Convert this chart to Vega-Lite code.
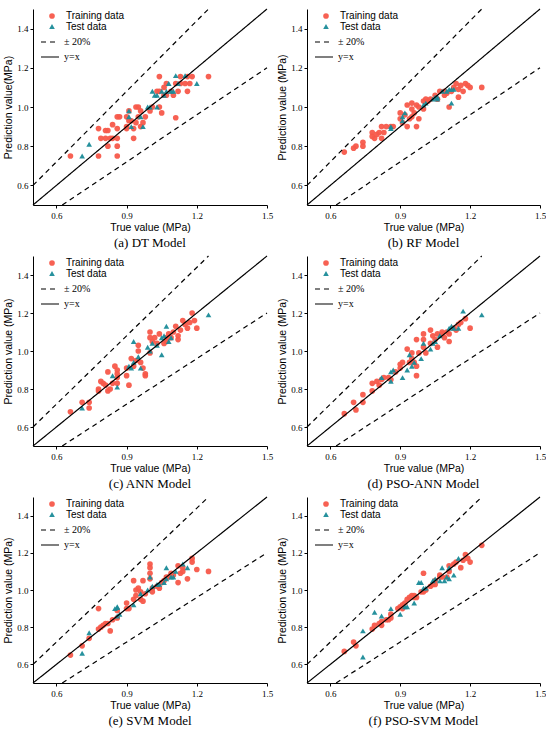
{
  "$schema": "https://vega.github.io/schema/vega-lite/v6.json",
  "padding": {"left": 3, "top": 6, "right": 0, "bottom": 0},
  "datasets": {
    "lines": [
      {"line": "u", "kind": "± 20%", "x": 0.5, "y": 0.6},
      {"line": "u", "kind": "± 20%", "x": 1.25, "y": 1.5},
      {"line": "l", "kind": "± 20%", "x": 0.625, "y": 0.5},
      {"line": "l", "kind": "± 20%", "x": 1.5, "y": 1.2},
      {"line": "d", "kind": "y=x", "x": 0.5, "y": 0.5},
      {"line": "d", "kind": "y=x", "x": 1.5, "y": 1.5}
    ],
    "pts": [
      {"m": "a", "s": "Training data", "x": 0.66, "y": 0.75},
      {"m": "a", "s": "Training data", "x": 0.78, "y": 0.89},
      {"m": "a", "s": "Training data", "x": 0.78, "y": 0.75},
      {"m": "a", "s": "Training data", "x": 0.79, "y": 0.84},
      {"m": "a", "s": "Training data", "x": 0.81, "y": 0.84},
      {"m": "a", "s": "Training data", "x": 0.81, "y": 0.88},
      {"m": "a", "s": "Training data", "x": 0.82, "y": 0.88},
      {"m": "a", "s": "Training data", "x": 0.82, "y": 0.80},
      {"m": "a", "s": "Training data", "x": 0.83, "y": 0.84},
      {"m": "a", "s": "Training data", "x": 0.84, "y": 0.84},
      {"m": "a", "s": "Training data", "x": 0.84, "y": 0.91},
      {"m": "a", "s": "Training data", "x": 0.86, "y": 0.95},
      {"m": "a", "s": "Training data", "x": 0.86, "y": 0.89},
      {"m": "a", "s": "Training data", "x": 0.86, "y": 0.84},
      {"m": "a", "s": "Training data", "x": 0.86, "y": 0.80},
      {"m": "a", "s": "Training data", "x": 0.86, "y": 0.75},
      {"m": "a", "s": "Training data", "x": 0.87, "y": 0.95},
      {"m": "a", "s": "Training data", "x": 0.90, "y": 0.95},
      {"m": "a", "s": "Training data", "x": 0.90, "y": 0.90},
      {"m": "a", "s": "Training data", "x": 0.91, "y": 0.93},
      {"m": "a", "s": "Training data", "x": 0.90, "y": 0.89},
      {"m": "a", "s": "Training data", "x": 0.91, "y": 0.98},
      {"m": "a", "s": "Training data", "x": 0.92, "y": 0.93},
      {"m": "a", "s": "Training data", "x": 0.93, "y": 0.89},
      {"m": "a", "s": "Training data", "x": 0.93, "y": 0.84},
      {"m": "a", "s": "Training data", "x": 0.94, "y": 0.92},
      {"m": "a", "s": "Training data", "x": 0.94, "y": 1.00},
      {"m": "a", "s": "Training data", "x": 0.95, "y": 0.95},
      {"m": "a", "s": "Training data", "x": 0.95, "y": 1.00},
      {"m": "a", "s": "Training data", "x": 0.96, "y": 0.90},
      {"m": "a", "s": "Training data", "x": 0.96, "y": 0.98},
      {"m": "a", "s": "Training data", "x": 0.97, "y": 0.92},
      {"m": "a", "s": "Training data", "x": 0.98, "y": 0.95},
      {"m": "a", "s": "Training data", "x": 1.00, "y": 0.98},
      {"m": "a", "s": "Training data", "x": 1.01, "y": 1.00},
      {"m": "a", "s": "Training data", "x": 1.04, "y": 1.155},
      {"m": "a", "s": "Training data", "x": 1.04, "y": 1.00},
      {"m": "a", "s": "Training data", "x": 1.05, "y": 0.97},
      {"m": "a", "s": "Training data", "x": 1.03, "y": 1.08},
      {"m": "a", "s": "Training data", "x": 1.04, "y": 1.08},
      {"m": "a", "s": "Training data", "x": 1.06, "y": 1.06},
      {"m": "a", "s": "Training data", "x": 1.06, "y": 1.10},
      {"m": "a", "s": "Training data", "x": 1.07, "y": 1.06},
      {"m": "a", "s": "Training data", "x": 1.07, "y": 1.12},
      {"m": "a", "s": "Training data", "x": 1.09, "y": 1.08},
      {"m": "a", "s": "Training data", "x": 1.10, "y": 1.06},
      {"m": "a", "s": "Training data", "x": 1.11, "y": 0.945},
      {"m": "a", "s": "Training data", "x": 1.11, "y": 1.12},
      {"m": "a", "s": "Training data", "x": 1.12, "y": 1.08},
      {"m": "a", "s": "Training data", "x": 1.13, "y": 1.155},
      {"m": "a", "s": "Training data", "x": 1.13, "y": 1.12},
      {"m": "a", "s": "Training data", "x": 1.15, "y": 1.12},
      {"m": "a", "s": "Training data", "x": 1.16, "y": 1.155},
      {"m": "a", "s": "Training data", "x": 1.16, "y": 1.08},
      {"m": "a", "s": "Training data", "x": 1.17, "y": 1.12},
      {"m": "a", "s": "Training data", "x": 1.18, "y": 1.155},
      {"m": "a", "s": "Training data", "x": 1.25, "y": 1.155},
      {"m": "a", "s": "Test data", "x": 0.71, "y": 0.75},
      {"m": "a", "s": "Test data", "x": 0.74, "y": 0.81},
      {"m": "a", "s": "Test data", "x": 0.91, "y": 0.98},
      {"m": "a", "s": "Test data", "x": 0.91, "y": 0.95},
      {"m": "a", "s": "Test data", "x": 0.92, "y": 0.90},
      {"m": "a", "s": "Test data", "x": 0.96, "y": 0.95},
      {"m": "a", "s": "Test data", "x": 0.97, "y": 0.90},
      {"m": "a", "s": "Test data", "x": 0.99, "y": 1.00},
      {"m": "a", "s": "Test data", "x": 1.00, "y": 1.00},
      {"m": "a", "s": "Test data", "x": 1.03, "y": 1.00},
      {"m": "a", "s": "Test data", "x": 1.01, "y": 1.08},
      {"m": "a", "s": "Test data", "x": 1.02, "y": 1.06},
      {"m": "a", "s": "Test data", "x": 1.03, "y": 1.06},
      {"m": "a", "s": "Test data", "x": 1.05, "y": 1.08},
      {"m": "a", "s": "Test data", "x": 1.06, "y": 1.06},
      {"m": "a", "s": "Test data", "x": 1.07, "y": 1.08},
      {"m": "a", "s": "Test data", "x": 1.08, "y": 1.12},
      {"m": "a", "s": "Test data", "x": 1.09, "y": 1.08},
      {"m": "a", "s": "Test data", "x": 1.10, "y": 1.08},
      {"m": "a", "s": "Test data", "x": 1.11, "y": 1.16},
      {"m": "a", "s": "Test data", "x": 1.12, "y": 1.12},
      {"m": "a", "s": "Test data", "x": 1.15, "y": 1.16},
      {"m": "a", "s": "Test data", "x": 1.20, "y": 1.12},

      {"m": "b", "s": "Training data", "x": 0.66, "y": 0.77},
      {"m": "b", "s": "Training data", "x": 0.70, "y": 0.79},
      {"m": "b", "s": "Training data", "x": 0.71, "y": 0.80},
      {"m": "b", "s": "Training data", "x": 0.74, "y": 0.80},
      {"m": "b", "s": "Training data", "x": 0.74, "y": 0.82},
      {"m": "b", "s": "Training data", "x": 0.78, "y": 0.87},
      {"m": "b", "s": "Training data", "x": 0.78, "y": 0.85},
      {"m": "b", "s": "Training data", "x": 0.79, "y": 0.84},
      {"m": "b", "s": "Training data", "x": 0.80, "y": 0.86},
      {"m": "b", "s": "Training data", "x": 0.81, "y": 0.87},
      {"m": "b", "s": "Training data", "x": 0.82, "y": 0.90},
      {"m": "b", "s": "Training data", "x": 0.82, "y": 0.84},
      {"m": "b", "s": "Training data", "x": 0.83, "y": 0.87},
      {"m": "b", "s": "Training data", "x": 0.84, "y": 0.90},
      {"m": "b", "s": "Training data", "x": 0.86, "y": 0.90},
      {"m": "b", "s": "Training data", "x": 0.87, "y": 0.90},
      {"m": "b", "s": "Training data", "x": 0.90, "y": 0.97},
      {"m": "b", "s": "Training data", "x": 0.90, "y": 0.94},
      {"m": "b", "s": "Training data", "x": 0.91, "y": 0.92},
      {"m": "b", "s": "Training data", "x": 0.92, "y": 0.96},
      {"m": "b", "s": "Training data", "x": 0.93, "y": 1.01},
      {"m": "b", "s": "Training data", "x": 0.93, "y": 0.90},
      {"m": "b", "s": "Training data", "x": 0.94, "y": 0.94},
      {"m": "b", "s": "Training data", "x": 0.95, "y": 0.99},
      {"m": "b", "s": "Training data", "x": 0.95, "y": 1.02},
      {"m": "b", "s": "Training data", "x": 0.95, "y": 0.95},
      {"m": "b", "s": "Training data", "x": 0.96, "y": 0.97},
      {"m": "b", "s": "Training data", "x": 0.97, "y": 1.01},
      {"m": "b", "s": "Training data", "x": 0.97, "y": 0.90},
      {"m": "b", "s": "Training data", "x": 0.98, "y": 0.94},
      {"m": "b", "s": "Training data", "x": 0.98, "y": 1.00},
      {"m": "b", "s": "Training data", "x": 1.00, "y": 1.03},
      {"m": "b", "s": "Training data", "x": 1.00, "y": 0.99},
      {"m": "b", "s": "Training data", "x": 1.01, "y": 1.04},
      {"m": "b", "s": "Training data", "x": 1.02, "y": 1.03},
      {"m": "b", "s": "Training data", "x": 1.03, "y": 1.04},
      {"m": "b", "s": "Training data", "x": 1.05, "y": 1.06},
      {"m": "b", "s": "Training data", "x": 1.06, "y": 1.04},
      {"m": "b", "s": "Training data", "x": 1.07, "y": 1.08},
      {"m": "b", "s": "Training data", "x": 1.09, "y": 1.08},
      {"m": "b", "s": "Training data", "x": 1.09, "y": 1.06},
      {"m": "b", "s": "Training data", "x": 1.10, "y": 1.07},
      {"m": "b", "s": "Training data", "x": 1.11, "y": 1.00},
      {"m": "b", "s": "Training data", "x": 1.12, "y": 1.08},
      {"m": "b", "s": "Training data", "x": 1.13, "y": 1.10},
      {"m": "b", "s": "Training data", "x": 1.14, "y": 1.12},
      {"m": "b", "s": "Training data", "x": 1.15, "y": 1.09},
      {"m": "b", "s": "Training data", "x": 1.16, "y": 1.11},
      {"m": "b", "s": "Training data", "x": 1.15, "y": 1.05},
      {"m": "b", "s": "Training data", "x": 1.17, "y": 1.08},
      {"m": "b", "s": "Training data", "x": 1.18, "y": 1.12},
      {"m": "b", "s": "Training data", "x": 1.19, "y": 1.11},
      {"m": "b", "s": "Training data", "x": 1.20, "y": 1.10},
      {"m": "b", "s": "Training data", "x": 1.25, "y": 1.10},
      {"m": "b", "s": "Test data", "x": 0.86, "y": 0.90},
      {"m": "b", "s": "Test data", "x": 0.86, "y": 0.89},
      {"m": "b", "s": "Test data", "x": 0.91, "y": 0.95},
      {"m": "b", "s": "Test data", "x": 0.91, "y": 0.93},
      {"m": "b", "s": "Test data", "x": 0.92, "y": 0.97},
      {"m": "b", "s": "Test data", "x": 1.00, "y": 1.01},
      {"m": "b", "s": "Test data", "x": 1.01, "y": 1.02},
      {"m": "b", "s": "Test data", "x": 1.04, "y": 1.04},
      {"m": "b", "s": "Test data", "x": 1.05, "y": 1.05},
      {"m": "b", "s": "Test data", "x": 1.06, "y": 1.04},
      {"m": "b", "s": "Test data", "x": 1.06, "y": 1.05},
      {"m": "b", "s": "Test data", "x": 1.08, "y": 1.08},
      {"m": "b", "s": "Test data", "x": 1.10, "y": 1.08},
      {"m": "b", "s": "Test data", "x": 1.11, "y": 1.09},
      {"m": "b", "s": "Test data", "x": 1.12, "y": 1.09},
      {"m": "b", "s": "Test data", "x": 1.12, "y": 1.02},
      {"m": "b", "s": "Test data", "x": 1.13, "y": 1.09},

      {"m": "c", "s": "Training data", "x": 0.66, "y": 0.68},
      {"m": "c", "s": "Training data", "x": 0.71, "y": 0.73},
      {"m": "c", "s": "Training data", "x": 0.74, "y": 0.73},
      {"m": "c", "s": "Training data", "x": 0.74, "y": 0.70},
      {"m": "c", "s": "Training data", "x": 0.78, "y": 0.80},
      {"m": "c", "s": "Training data", "x": 0.78, "y": 0.79},
      {"m": "c", "s": "Training data", "x": 0.79, "y": 0.84},
      {"m": "c", "s": "Training data", "x": 0.80, "y": 0.83},
      {"m": "c", "s": "Training data", "x": 0.81, "y": 0.82},
      {"m": "c", "s": "Training data", "x": 0.82, "y": 0.89},
      {"m": "c", "s": "Training data", "x": 0.82, "y": 0.79},
      {"m": "c", "s": "Training data", "x": 0.83, "y": 0.80},
      {"m": "c", "s": "Training data", "x": 0.84, "y": 0.83},
      {"m": "c", "s": "Training data", "x": 0.85, "y": 0.92},
      {"m": "c", "s": "Training data", "x": 0.86, "y": 0.90},
      {"m": "c", "s": "Training data", "x": 0.86, "y": 0.88},
      {"m": "c", "s": "Training data", "x": 0.86, "y": 0.86},
      {"m": "c", "s": "Training data", "x": 0.86, "y": 0.83},
      {"m": "c", "s": "Training data", "x": 0.90, "y": 0.87},
      {"m": "c", "s": "Training data", "x": 0.90, "y": 0.91},
      {"m": "c", "s": "Training data", "x": 0.91, "y": 0.82},
      {"m": "c", "s": "Training data", "x": 0.92, "y": 0.96},
      {"m": "c", "s": "Training data", "x": 0.93, "y": 0.92},
      {"m": "c", "s": "Training data", "x": 0.94, "y": 0.95},
      {"m": "c", "s": "Training data", "x": 0.95, "y": 1.03},
      {"m": "c", "s": "Training data", "x": 0.95, "y": 1.00},
      {"m": "c", "s": "Training data", "x": 0.96, "y": 0.94},
      {"m": "c", "s": "Training data", "x": 0.97, "y": 0.91},
      {"m": "c", "s": "Training data", "x": 0.98, "y": 0.88},
      {"m": "c", "s": "Training data", "x": 0.98, "y": 0.87},
      {"m": "c", "s": "Training data", "x": 1.00, "y": 1.10},
      {"m": "c", "s": "Training data", "x": 1.00, "y": 1.07},
      {"m": "c", "s": "Training data", "x": 1.00, "y": 0.99},
      {"m": "c", "s": "Training data", "x": 1.01, "y": 1.05},
      {"m": "c", "s": "Training data", "x": 1.02, "y": 1.07},
      {"m": "c", "s": "Training data", "x": 1.03, "y": 1.04},
      {"m": "c", "s": "Training data", "x": 1.04, "y": 1.09},
      {"m": "c", "s": "Training data", "x": 1.06, "y": 1.04},
      {"m": "c", "s": "Training data", "x": 1.07, "y": 1.07},
      {"m": "c", "s": "Training data", "x": 1.07, "y": 1.05},
      {"m": "c", "s": "Training data", "x": 1.08, "y": 1.09},
      {"m": "c", "s": "Training data", "x": 1.09, "y": 1.07},
      {"m": "c", "s": "Training data", "x": 1.10, "y": 1.10},
      {"m": "c", "s": "Training data", "x": 1.11, "y": 1.13},
      {"m": "c", "s": "Training data", "x": 1.12, "y": 1.08},
      {"m": "c", "s": "Training data", "x": 1.12, "y": 1.06},
      {"m": "c", "s": "Training data", "x": 1.13, "y": 1.11},
      {"m": "c", "s": "Training data", "x": 1.14, "y": 1.16},
      {"m": "c", "s": "Training data", "x": 1.15, "y": 1.14},
      {"m": "c", "s": "Training data", "x": 1.16, "y": 1.12},
      {"m": "c", "s": "Training data", "x": 1.17, "y": 1.15},
      {"m": "c", "s": "Training data", "x": 1.18, "y": 1.20},
      {"m": "c", "s": "Training data", "x": 1.19, "y": 1.16},
      {"m": "c", "s": "Training data", "x": 1.20, "y": 1.12},
      {"m": "c", "s": "Test data", "x": 0.71, "y": 0.70},
      {"m": "c", "s": "Test data", "x": 0.84, "y": 0.87},
      {"m": "c", "s": "Test data", "x": 0.86, "y": 0.81},
      {"m": "c", "s": "Test data", "x": 0.91, "y": 0.92},
      {"m": "c", "s": "Test data", "x": 0.92, "y": 0.91},
      {"m": "c", "s": "Test data", "x": 0.93, "y": 0.94},
      {"m": "c", "s": "Test data", "x": 0.93, "y": 1.05},
      {"m": "c", "s": "Test data", "x": 0.95, "y": 0.97},
      {"m": "c", "s": "Test data", "x": 0.96, "y": 0.91},
      {"m": "c", "s": "Test data", "x": 0.99, "y": 1.02},
      {"m": "c", "s": "Test data", "x": 1.00, "y": 1.00},
      {"m": "c", "s": "Test data", "x": 1.01, "y": 1.04},
      {"m": "c", "s": "Test data", "x": 1.03, "y": 1.03},
      {"m": "c", "s": "Test data", "x": 1.05, "y": 0.98},
      {"m": "c", "s": "Test data", "x": 1.05, "y": 1.07},
      {"m": "c", "s": "Test data", "x": 1.06, "y": 1.08},
      {"m": "c", "s": "Test data", "x": 1.07, "y": 1.13},
      {"m": "c", "s": "Test data", "x": 1.08, "y": 1.05},
      {"m": "c", "s": "Test data", "x": 1.09, "y": 1.07},
      {"m": "c", "s": "Test data", "x": 1.25, "y": 1.19},

      {"m": "d", "s": "Training data", "x": 0.66, "y": 0.67},
      {"m": "d", "s": "Training data", "x": 0.70, "y": 0.73},
      {"m": "d", "s": "Training data", "x": 0.71, "y": 0.69},
      {"m": "d", "s": "Training data", "x": 0.74, "y": 0.77},
      {"m": "d", "s": "Training data", "x": 0.74, "y": 0.73},
      {"m": "d", "s": "Training data", "x": 0.78, "y": 0.83},
      {"m": "d", "s": "Training data", "x": 0.78, "y": 0.79},
      {"m": "d", "s": "Training data", "x": 0.80, "y": 0.84},
      {"m": "d", "s": "Training data", "x": 0.81, "y": 0.82},
      {"m": "d", "s": "Training data", "x": 0.82, "y": 0.85},
      {"m": "d", "s": "Training data", "x": 0.83, "y": 0.86},
      {"m": "d", "s": "Training data", "x": 0.85, "y": 0.86},
      {"m": "d", "s": "Training data", "x": 0.86, "y": 0.85},
      {"m": "d", "s": "Training data", "x": 0.88, "y": 0.89},
      {"m": "d", "s": "Training data", "x": 0.90, "y": 0.93},
      {"m": "d", "s": "Training data", "x": 0.90, "y": 0.91},
      {"m": "d", "s": "Training data", "x": 0.91, "y": 0.94},
      {"m": "d", "s": "Training data", "x": 0.93, "y": 1.01},
      {"m": "d", "s": "Training data", "x": 0.94, "y": 0.94},
      {"m": "d", "s": "Training data", "x": 0.95, "y": 0.99},
      {"m": "d", "s": "Training data", "x": 0.95, "y": 0.96},
      {"m": "d", "s": "Training data", "x": 0.96, "y": 0.94},
      {"m": "d", "s": "Training data", "x": 0.97, "y": 1.06},
      {"m": "d", "s": "Training data", "x": 0.97, "y": 0.92},
      {"m": "d", "s": "Training data", "x": 0.97, "y": 0.87},
      {"m": "d", "s": "Training data", "x": 0.98, "y": 0.99},
      {"m": "d", "s": "Training data", "x": 1.00, "y": 1.09},
      {"m": "d", "s": "Training data", "x": 1.00, "y": 1.06},
      {"m": "d", "s": "Training data", "x": 1.00, "y": 1.02},
      {"m": "d", "s": "Training data", "x": 1.01, "y": 0.99},
      {"m": "d", "s": "Training data", "x": 1.03, "y": 1.11},
      {"m": "d", "s": "Training data", "x": 1.03, "y": 1.04},
      {"m": "d", "s": "Training data", "x": 1.04, "y": 1.08},
      {"m": "d", "s": "Training data", "x": 1.05, "y": 1.06},
      {"m": "d", "s": "Training data", "x": 1.06, "y": 1.02},
      {"m": "d", "s": "Training data", "x": 1.06, "y": 1.09},
      {"m": "d", "s": "Training data", "x": 1.08, "y": 1.10},
      {"m": "d", "s": "Training data", "x": 1.08, "y": 1.09},
      {"m": "d", "s": "Training data", "x": 1.09, "y": 1.07},
      {"m": "d", "s": "Training data", "x": 1.10, "y": 1.10},
      {"m": "d", "s": "Training data", "x": 1.11, "y": 1.05},
      {"m": "d", "s": "Training data", "x": 1.11, "y": 1.09},
      {"m": "d", "s": "Training data", "x": 1.13, "y": 1.12},
      {"m": "d", "s": "Training data", "x": 1.14, "y": 1.11},
      {"m": "d", "s": "Training data", "x": 1.15, "y": 1.14},
      {"m": "d", "s": "Training data", "x": 1.16, "y": 1.15},
      {"m": "d", "s": "Training data", "x": 1.18, "y": 1.17},
      {"m": "d", "s": "Training data", "x": 1.20, "y": 1.12},
      {"m": "d", "s": "Test data", "x": 0.82, "y": 0.86},
      {"m": "d", "s": "Test data", "x": 0.86, "y": 0.89},
      {"m": "d", "s": "Test data", "x": 0.86, "y": 0.84},
      {"m": "d", "s": "Test data", "x": 0.87, "y": 0.90},
      {"m": "d", "s": "Test data", "x": 0.91, "y": 0.86},
      {"m": "d", "s": "Test data", "x": 0.93, "y": 0.90},
      {"m": "d", "s": "Test data", "x": 0.94, "y": 0.98},
      {"m": "d", "s": "Test data", "x": 0.95, "y": 0.92},
      {"m": "d", "s": "Test data", "x": 0.96, "y": 0.94},
      {"m": "d", "s": "Test data", "x": 0.99, "y": 0.96},
      {"m": "d", "s": "Test data", "x": 1.00, "y": 1.04},
      {"m": "d", "s": "Test data", "x": 1.03, "y": 1.01},
      {"m": "d", "s": "Test data", "x": 1.04, "y": 1.04},
      {"m": "d", "s": "Test data", "x": 1.05, "y": 1.05},
      {"m": "d", "s": "Test data", "x": 1.07, "y": 1.08},
      {"m": "d", "s": "Test data", "x": 1.11, "y": 1.12},
      {"m": "d", "s": "Test data", "x": 1.12, "y": 1.13},
      {"m": "d", "s": "Test data", "x": 1.13, "y": 1.12},
      {"m": "d", "s": "Test data", "x": 1.15, "y": 1.12},
      {"m": "d", "s": "Test data", "x": 1.17, "y": 1.21},
      {"m": "d", "s": "Test data", "x": 1.25, "y": 1.19},

      {"m": "e", "s": "Training data", "x": 0.66, "y": 0.65},
      {"m": "e", "s": "Training data", "x": 0.71, "y": 0.70},
      {"m": "e", "s": "Training data", "x": 0.74, "y": 0.74},
      {"m": "e", "s": "Training data", "x": 0.78, "y": 0.90},
      {"m": "e", "s": "Training data", "x": 0.78, "y": 0.79},
      {"m": "e", "s": "Training data", "x": 0.79, "y": 0.80},
      {"m": "e", "s": "Training data", "x": 0.80, "y": 0.81},
      {"m": "e", "s": "Training data", "x": 0.81, "y": 0.82},
      {"m": "e", "s": "Training data", "x": 0.82, "y": 0.82},
      {"m": "e", "s": "Training data", "x": 0.83, "y": 0.78},
      {"m": "e", "s": "Training data", "x": 0.84, "y": 0.84},
      {"m": "e", "s": "Training data", "x": 0.86, "y": 0.89},
      {"m": "e", "s": "Training data", "x": 0.86, "y": 0.85},
      {"m": "e", "s": "Training data", "x": 0.90, "y": 0.93},
      {"m": "e", "s": "Training data", "x": 0.90, "y": 0.90},
      {"m": "e", "s": "Training data", "x": 0.91, "y": 0.90},
      {"m": "e", "s": "Training data", "x": 0.93, "y": 0.95},
      {"m": "e", "s": "Training data", "x": 0.93, "y": 1.05},
      {"m": "e", "s": "Training data", "x": 0.94, "y": 0.97},
      {"m": "e", "s": "Training data", "x": 0.94, "y": 1.00},
      {"m": "e", "s": "Training data", "x": 0.95, "y": 1.01},
      {"m": "e", "s": "Training data", "x": 0.96, "y": 0.99},
      {"m": "e", "s": "Training data", "x": 0.96, "y": 0.95},
      {"m": "e", "s": "Training data", "x": 0.97, "y": 0.94},
      {"m": "e", "s": "Training data", "x": 0.97, "y": 1.05},
      {"m": "e", "s": "Training data", "x": 0.98, "y": 0.98},
      {"m": "e", "s": "Training data", "x": 1.00, "y": 1.14},
      {"m": "e", "s": "Training data", "x": 1.00, "y": 1.12},
      {"m": "e", "s": "Training data", "x": 1.00, "y": 1.09},
      {"m": "e", "s": "Training data", "x": 1.00, "y": 1.06},
      {"m": "e", "s": "Training data", "x": 1.01, "y": 1.01},
      {"m": "e", "s": "Training data", "x": 1.01, "y": 0.99},
      {"m": "e", "s": "Training data", "x": 1.03, "y": 1.02},
      {"m": "e", "s": "Training data", "x": 1.04, "y": 1.01},
      {"m": "e", "s": "Training data", "x": 1.05, "y": 1.04},
      {"m": "e", "s": "Training data", "x": 1.06, "y": 1.05},
      {"m": "e", "s": "Training data", "x": 1.07, "y": 1.07},
      {"m": "e", "s": "Training data", "x": 1.08, "y": 1.07},
      {"m": "e", "s": "Training data", "x": 1.09, "y": 1.09},
      {"m": "e", "s": "Training data", "x": 1.10, "y": 1.08},
      {"m": "e", "s": "Training data", "x": 1.12, "y": 1.13},
      {"m": "e", "s": "Training data", "x": 1.12, "y": 1.04},
      {"m": "e", "s": "Training data", "x": 1.13, "y": 1.09},
      {"m": "e", "s": "Training data", "x": 1.14, "y": 1.10},
      {"m": "e", "s": "Training data", "x": 1.14, "y": 1.12},
      {"m": "e", "s": "Training data", "x": 1.16, "y": 1.06},
      {"m": "e", "s": "Training data", "x": 1.18, "y": 1.15},
      {"m": "e", "s": "Training data", "x": 1.18, "y": 1.17},
      {"m": "e", "s": "Training data", "x": 1.20, "y": 1.11},
      {"m": "e", "s": "Training data", "x": 1.25, "y": 1.10},
      {"m": "e", "s": "Test data", "x": 0.71, "y": 0.66},
      {"m": "e", "s": "Test data", "x": 0.74, "y": 0.77},
      {"m": "e", "s": "Test data", "x": 0.85, "y": 0.90},
      {"m": "e", "s": "Test data", "x": 0.86, "y": 0.91},
      {"m": "e", "s": "Test data", "x": 0.86, "y": 0.905},
      {"m": "e", "s": "Test data", "x": 0.86, "y": 0.86},
      {"m": "e", "s": "Test data", "x": 0.87, "y": 0.87},
      {"m": "e", "s": "Test data", "x": 0.93, "y": 0.92},
      {"m": "e", "s": "Test data", "x": 0.96, "y": 0.98},
      {"m": "e", "s": "Test data", "x": 0.99, "y": 1.00},
      {"m": "e", "s": "Test data", "x": 1.00, "y": 1.07},
      {"m": "e", "s": "Test data", "x": 1.01, "y": 1.02},
      {"m": "e", "s": "Test data", "x": 1.03, "y": 1.03},
      {"m": "e", "s": "Test data", "x": 1.04, "y": 1.03},
      {"m": "e", "s": "Test data", "x": 1.06, "y": 1.04},
      {"m": "e", "s": "Test data", "x": 1.07, "y": 1.06},
      {"m": "e", "s": "Test data", "x": 1.07, "y": 1.12},
      {"m": "e", "s": "Test data", "x": 1.09, "y": 1.07},
      {"m": "e", "s": "Test data", "x": 1.10, "y": 1.07},
      {"m": "e", "s": "Test data", "x": 1.11, "y": 1.10},
      {"m": "e", "s": "Test data", "x": 1.14, "y": 1.14},
      {"m": "e", "s": "Test data", "x": 1.16, "y": 1.12},

      {"m": "f", "s": "Training data", "x": 0.66, "y": 0.67},
      {"m": "f", "s": "Training data", "x": 0.70, "y": 0.72},
      {"m": "f", "s": "Training data", "x": 0.71, "y": 0.70},
      {"m": "f", "s": "Training data", "x": 0.78, "y": 0.79},
      {"m": "f", "s": "Training data", "x": 0.79, "y": 0.81},
      {"m": "f", "s": "Training data", "x": 0.81, "y": 0.82},
      {"m": "f", "s": "Training data", "x": 0.82, "y": 0.81},
      {"m": "f", "s": "Training data", "x": 0.82, "y": 0.83},
      {"m": "f", "s": "Training data", "x": 0.84, "y": 0.84},
      {"m": "f", "s": "Training data", "x": 0.85, "y": 0.84},
      {"m": "f", "s": "Training data", "x": 0.86, "y": 0.85},
      {"m": "f", "s": "Training data", "x": 0.86, "y": 0.87},
      {"m": "f", "s": "Training data", "x": 0.89, "y": 0.90},
      {"m": "f", "s": "Training data", "x": 0.90, "y": 0.91},
      {"m": "f", "s": "Training data", "x": 0.91, "y": 0.90},
      {"m": "f", "s": "Training data", "x": 0.91, "y": 0.92},
      {"m": "f", "s": "Training data", "x": 0.92, "y": 0.93},
      {"m": "f", "s": "Training data", "x": 0.93, "y": 0.95},
      {"m": "f", "s": "Training data", "x": 0.94, "y": 0.96},
      {"m": "f", "s": "Training data", "x": 0.95, "y": 0.97},
      {"m": "f", "s": "Training data", "x": 0.96, "y": 0.96},
      {"m": "f", "s": "Training data", "x": 0.96, "y": 0.97},
      {"m": "f", "s": "Training data", "x": 0.97, "y": 0.96},
      {"m": "f", "s": "Training data", "x": 0.99, "y": 0.99},
      {"m": "f", "s": "Training data", "x": 1.00, "y": 1.09},
      {"m": "f", "s": "Training data", "x": 1.00, "y": 0.99},
      {"m": "f", "s": "Training data", "x": 1.01, "y": 1.00},
      {"m": "f", "s": "Training data", "x": 1.03, "y": 1.02},
      {"m": "f", "s": "Training data", "x": 1.04, "y": 1.03},
      {"m": "f", "s": "Training data", "x": 1.05, "y": 1.03},
      {"m": "f", "s": "Training data", "x": 1.05, "y": 1.05},
      {"m": "f", "s": "Training data", "x": 1.07, "y": 1.07},
      {"m": "f", "s": "Training data", "x": 1.07, "y": 1.08},
      {"m": "f", "s": "Training data", "x": 1.08, "y": 1.07},
      {"m": "f", "s": "Training data", "x": 1.10, "y": 1.07},
      {"m": "f", "s": "Training data", "x": 1.11, "y": 1.13},
      {"m": "f", "s": "Training data", "x": 1.11, "y": 1.10},
      {"m": "f", "s": "Training data", "x": 1.13, "y": 1.14},
      {"m": "f", "s": "Training data", "x": 1.14, "y": 1.15},
      {"m": "f", "s": "Training data", "x": 1.16, "y": 1.12},
      {"m": "f", "s": "Training data", "x": 1.17, "y": 1.16},
      {"m": "f", "s": "Training data", "x": 1.18, "y": 1.19},
      {"m": "f", "s": "Training data", "x": 1.19, "y": 1.17},
      {"m": "f", "s": "Training data", "x": 1.20, "y": 1.15},
      {"m": "f", "s": "Training data", "x": 1.25, "y": 1.24},
      {"m": "f", "s": "Test data", "x": 0.74, "y": 0.64},
      {"m": "f", "s": "Test data", "x": 0.74, "y": 0.78},
      {"m": "f", "s": "Test data", "x": 0.79, "y": 0.88},
      {"m": "f", "s": "Test data", "x": 0.82, "y": 0.86},
      {"m": "f", "s": "Test data", "x": 0.86, "y": 0.90},
      {"m": "f", "s": "Test data", "x": 0.90, "y": 0.87},
      {"m": "f", "s": "Test data", "x": 0.92, "y": 0.91},
      {"m": "f", "s": "Test data", "x": 0.93, "y": 0.91},
      {"m": "f", "s": "Test data", "x": 0.96, "y": 0.93},
      {"m": "f", "s": "Test data", "x": 0.98, "y": 1.04},
      {"m": "f", "s": "Test data", "x": 0.99, "y": 1.04},
      {"m": "f", "s": "Test data", "x": 1.00, "y": 1.01},
      {"m": "f", "s": "Test data", "x": 1.01, "y": 1.01},
      {"m": "f", "s": "Test data", "x": 1.04, "y": 1.05},
      {"m": "f", "s": "Test data", "x": 1.05, "y": 1.06},
      {"m": "f", "s": "Test data", "x": 1.07, "y": 1.05},
      {"m": "f", "s": "Test data", "x": 1.08, "y": 1.12},
      {"m": "f", "s": "Test data", "x": 1.09, "y": 1.05},
      {"m": "f", "s": "Test data", "x": 1.10, "y": 1.07},
      {"m": "f", "s": "Test data", "x": 1.11, "y": 1.06},
      {"m": "f", "s": "Test data", "x": 1.11, "y": 1.12},
      {"m": "f", "s": "Test data", "x": 1.13, "y": 1.08},
      {"m": "f", "s": "Test data", "x": 1.15, "y": 1.17}
    ]
  },
  "columns": 2,
  "spacing": {"row": 51, "column": 40},
  "bounds": "flush",
  "resolve": {"scale": {"color": "independent", "shape": "independent", "strokeDash": "independent"}, "legend": {"color": "independent", "shape": "independent", "strokeDash": "independent"}},
  "concat": [
    {
      "width": 234, "height": 196,
      "title": "(a) DT Model",
      "encoding": {
        "x": {"field": "x", "type": "quantitative", "scale": {"domain": [0.5, 1.5]}, "axis": {"title": "True value (MPa)", "values": [0.6, 0.9, 1.2, 1.5], "format": ".1f"}},
        "y": {"field": "y", "type": "quantitative", "scale": {"domain": [0.5, 1.5]}, "axis": {"title": "Prediction value(MPa)", "values": [0.6, 0.8, 1.0, 1.2, 1.4], "format": ".1f"}}
      },
      "layer": [
        {"data": {"name": "pts"}, "transform": [{"filter": "datum.m == 'a'"}], "mark": {"type": "point", "filled": true, "size": 32, "opacity": 0.95},
         "encoding": {"color": {"field": "s", "type": "nominal", "title": null, "scale": {"domain": ["Training data", "Test data"], "range": ["#f7584a", "#1a8b98"]}, "legend": {"symbolOffset": 12, "labelOffset": 9, "symbolSize": 32, "rowPadding": 0.5}},
                      "shape": {"field": "s", "type": "nominal", "title": null, "scale": {"domain": ["Training data", "Test data"], "range": ["circle", "triangle-up"]}}}},
        {"data": {"name": "lines"}, "mark": {"type": "line", "color": "black", "strokeWidth": 1.2},
         "encoding": {"detail": {"field": "line"}, "strokeDash": {"field": "kind", "type": "nominal", "title": null, "scale": {"domain": ["± 20%", "y=x"], "range": [[5, 4], [1, 0]]}, "legend": {"symbolType": "stroke", "labelFont": "Liberation Serif", "symbolSize": 324, "symbolStrokeColor": "black", "symbolStrokeWidth": 1.2, "symbolOffset": 5, "labelOffset": 4, "rowPadding": -6}}}}
      ]
    },
    {
      "width": 233, "height": 196,
      "title": "(b) RF Model",
      "encoding": {
        "x": {"field": "x", "type": "quantitative", "scale": {"domain": [0.5, 1.5]}, "axis": {"title": "True value (MPa)", "values": [0.6, 0.9, 1.2, 1.5], "format": ".1f"}},
        "y": {"field": "y", "type": "quantitative", "scale": {"domain": [0.5, 1.5]}, "axis": {"title": "Prediction value (MPa)", "values": [0.6, 0.8, 1.0, 1.2, 1.4], "format": ".1f"}}
      },
      "layer": [
        {"data": {"name": "pts"}, "transform": [{"filter": "datum.m == 'b'"}], "mark": {"type": "point", "filled": true, "size": 32, "opacity": 0.95},
         "encoding": {"color": {"field": "s", "type": "nominal", "title": null, "scale": {"domain": ["Training data", "Test data"], "range": ["#f7584a", "#1a8b98"]}, "legend": {"symbolOffset": 12, "labelOffset": 9, "symbolSize": 32, "rowPadding": 0.5}},
                      "shape": {"field": "s", "type": "nominal", "title": null, "scale": {"domain": ["Training data", "Test data"], "range": ["circle", "triangle-up"]}}}},
        {"data": {"name": "lines"}, "mark": {"type": "line", "color": "black", "strokeWidth": 1.2},
         "encoding": {"detail": {"field": "line"}, "strokeDash": {"field": "kind", "type": "nominal", "title": null, "scale": {"domain": ["± 20%", "y=x"], "range": [[5, 4], [1, 0]]}, "legend": {"symbolType": "stroke", "labelFont": "Liberation Serif", "symbolSize": 324, "symbolStrokeColor": "black", "symbolStrokeWidth": 1.2, "symbolOffset": 5, "labelOffset": 4, "rowPadding": -6}}}}
      ]
    },
    {
      "width": 234, "height": 190,
      "title": "(c) ANN Model",
      "encoding": {
        "x": {"field": "x", "type": "quantitative", "scale": {"domain": [0.5, 1.5]}, "axis": {"title": "True value (MPa)", "values": [0.6, 0.9, 1.2, 1.5], "format": ".1f"}},
        "y": {"field": "y", "type": "quantitative", "scale": {"domain": [0.5, 1.5]}, "axis": {"title": "Prediction value (MPa)", "values": [0.6, 0.8, 1.0, 1.2, 1.4], "format": ".1f"}}
      },
      "layer": [
        {"data": {"name": "pts"}, "transform": [{"filter": "datum.m == 'c'"}], "mark": {"type": "point", "filled": true, "size": 32, "opacity": 0.95},
         "encoding": {"color": {"field": "s", "type": "nominal", "title": null, "scale": {"domain": ["Training data", "Test data"], "range": ["#f7584a", "#1a8b98"]}, "legend": {"symbolOffset": 12, "labelOffset": 9, "symbolSize": 32, "rowPadding": 0.5}},
                      "shape": {"field": "s", "type": "nominal", "title": null, "scale": {"domain": ["Training data", "Test data"], "range": ["circle", "triangle-up"]}}}},
        {"data": {"name": "lines"}, "mark": {"type": "line", "color": "black", "strokeWidth": 1.2},
         "encoding": {"detail": {"field": "line"}, "strokeDash": {"field": "kind", "type": "nominal", "title": null, "scale": {"domain": ["± 20%", "y=x"], "range": [[5, 4], [1, 0]]}, "legend": {"symbolType": "stroke", "labelFont": "Liberation Serif", "symbolSize": 324, "symbolStrokeColor": "black", "symbolStrokeWidth": 1.2, "symbolOffset": 5, "labelOffset": 4, "rowPadding": -6}}}}
      ]
    },
    {
      "width": 233, "height": 190,
      "title": "(d) PSO-ANN Model",
      "encoding": {
        "x": {"field": "x", "type": "quantitative", "scale": {"domain": [0.5, 1.5]}, "axis": {"title": "True value (MPa)", "values": [0.6, 0.9, 1.2, 1.5], "format": ".1f"}},
        "y": {"field": "y", "type": "quantitative", "scale": {"domain": [0.5, 1.5]}, "axis": {"title": "Prediction value (MPa)", "values": [0.6, 0.8, 1.0, 1.2, 1.4], "format": ".1f"}}
      },
      "layer": [
        {"data": {"name": "pts"}, "transform": [{"filter": "datum.m == 'd'"}], "mark": {"type": "point", "filled": true, "size": 32, "opacity": 0.95},
         "encoding": {"color": {"field": "s", "type": "nominal", "title": null, "scale": {"domain": ["Training data", "Test data"], "range": ["#f7584a", "#1a8b98"]}, "legend": {"symbolOffset": 12, "labelOffset": 9, "symbolSize": 32, "rowPadding": 0.5}},
                      "shape": {"field": "s", "type": "nominal", "title": null, "scale": {"domain": ["Training data", "Test data"], "range": ["circle", "triangle-up"]}}}},
        {"data": {"name": "lines"}, "mark": {"type": "line", "color": "black", "strokeWidth": 1.2},
         "encoding": {"detail": {"field": "line"}, "strokeDash": {"field": "kind", "type": "nominal", "title": null, "scale": {"domain": ["± 20%", "y=x"], "range": [[5, 4], [1, 0]]}, "legend": {"symbolType": "stroke", "labelFont": "Liberation Serif", "symbolSize": 324, "symbolStrokeColor": "black", "symbolStrokeWidth": 1.2, "symbolOffset": 5, "labelOffset": 4, "rowPadding": -6}}}}
      ]
    },
    {
      "width": 234, "height": 186,
      "title": "(e) SVM Model",
      "encoding": {
        "x": {"field": "x", "type": "quantitative", "scale": {"domain": [0.5, 1.5]}, "axis": {"title": "True value (MPa)", "values": [0.6, 0.9, 1.2, 1.5], "format": ".1f"}},
        "y": {"field": "y", "type": "quantitative", "scale": {"domain": [0.5, 1.5]}, "axis": {"title": "Prediction value (MPa)", "values": [0.6, 0.8, 1.0, 1.2, 1.4], "format": ".1f"}}
      },
      "layer": [
        {"data": {"name": "pts"}, "transform": [{"filter": "datum.m == 'e'"}], "mark": {"type": "point", "filled": true, "size": 32, "opacity": 0.95},
         "encoding": {"color": {"field": "s", "type": "nominal", "title": null, "scale": {"domain": ["Training data", "Test data"], "range": ["#f7584a", "#1a8b98"]}, "legend": {"symbolOffset": 12, "labelOffset": 9, "symbolSize": 32, "rowPadding": 0.5}},
                      "shape": {"field": "s", "type": "nominal", "title": null, "scale": {"domain": ["Training data", "Test data"], "range": ["circle", "triangle-up"]}}}},
        {"data": {"name": "lines"}, "mark": {"type": "line", "color": "black", "strokeWidth": 1.2},
         "encoding": {"detail": {"field": "line"}, "strokeDash": {"field": "kind", "type": "nominal", "title": null, "scale": {"domain": ["± 20%", "y=x"], "range": [[5, 4], [1, 0]]}, "legend": {"symbolType": "stroke", "labelFont": "Liberation Serif", "symbolSize": 324, "symbolStrokeColor": "black", "symbolStrokeWidth": 1.2, "symbolOffset": 5, "labelOffset": 4, "rowPadding": -6}}}}
      ]
    },
    {
      "width": 233, "height": 186,
      "title": "(f) PSO-SVM Model",
      "encoding": {
        "x": {"field": "x", "type": "quantitative", "scale": {"domain": [0.5, 1.5]}, "axis": {"title": "True value (MPa)", "values": [0.6, 0.9, 1.2, 1.5], "format": ".1f"}},
        "y": {"field": "y", "type": "quantitative", "scale": {"domain": [0.5, 1.5]}, "axis": {"title": "Prediction value (MPa)", "values": [0.6, 0.8, 1.0, 1.2, 1.4], "format": ".1f"}}
      },
      "layer": [
        {"data": {"name": "pts"}, "transform": [{"filter": "datum.m == 'f'"}], "mark": {"type": "point", "filled": true, "size": 32, "opacity": 0.95},
         "encoding": {"color": {"field": "s", "type": "nominal", "title": null, "scale": {"domain": ["Training data", "Test data"], "range": ["#f7584a", "#1a8b98"]}, "legend": {"symbolOffset": 12, "labelOffset": 9, "symbolSize": 32, "rowPadding": 0.5}},
                      "shape": {"field": "s", "type": "nominal", "title": null, "scale": {"domain": ["Training data", "Test data"], "range": ["circle", "triangle-up"]}}}},
        {"data": {"name": "lines"}, "mark": {"type": "line", "color": "black", "strokeWidth": 1.2},
         "encoding": {"detail": {"field": "line"}, "strokeDash": {"field": "kind", "type": "nominal", "title": null, "scale": {"domain": ["± 20%", "y=x"], "range": [[5, 4], [1, 0]]}, "legend": {"symbolType": "stroke", "labelFont": "Liberation Serif", "symbolSize": 324, "symbolStrokeColor": "black", "symbolStrokeWidth": 1.2, "symbolOffset": 5, "labelOffset": 4, "rowPadding": -6}}}}
      ]
    }
  ],
  "config": {
    "view": {"stroke": null},
    "font": "Liberation Sans",
    "axis": {
      "grid": false, "domainColor": "black", "tickColor": "black", "tickSize": 3, "domainWidth": 1,
      "labelFont": "Liberation Serif", "labelFontSize": 9, "labelColor": "black", "labelPadding": 2,
      "titleFont": "Liberation Sans", "titleFontSize": 10.5, "titleFontWeight": "normal", "titleColor": "black", "titlePadding": 3
    },
    "axisX": {"labelPadding": 3, "titlePadding": 2, "labelFlush": false},
    "legend": {
      "orient": "top-left", "offset": 2, "padding": 0, "rowPadding": 1.5, "labelFontSize": 10, "labelColor": "black", "labelFont": "Liberation Sans",
      "layout": {"top-left": {"direction": "vertical", "margin": -5.5, "anchor": "start"}}
    },
    "title": {"orient": "bottom", "font": "Liberation Serif", "fontSize": 13, "fontWeight": "normal", "offset": 4, "anchor": "middle", "color": "black"}
  }
}
